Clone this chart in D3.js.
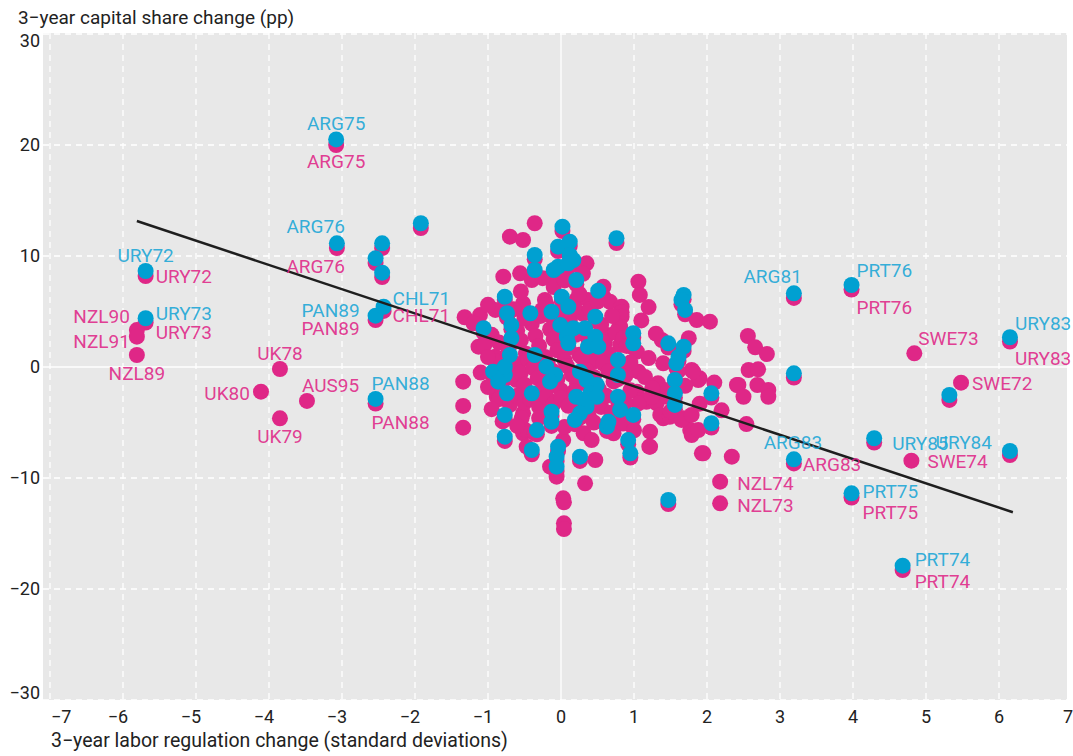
<!DOCTYPE html>
<html>
<head>
<meta charset="utf-8">
<script src="https://cdn.jsdelivr.net/npm/d3@7"></script>
<style>
    body { margin: 0; background: #fff; }
    svg { display: block; font-family: Roboto, "Noto Sans", sans-serif; }
</style>
</head>
<body>
<svg id="capital-scatter" width="1073" height="756"></svg>
<script>
// tick values
var xTicks = [-7, -6, -5, -4, -3, -2, -1, 0, 1, 2, 3, 4, 5, 6, 7];
var yTicks = [-30, -20, -10, 0, 10, 20, 30];

// [labor regulation change, capital share change]
var bluePoints = [
    [-3.08, 20.5], [-3.07, 11.14], [-5.69, 8.65], [-5.69, 4.39], [-2.54, 4.62], [-2.43, 5.43],
    [-2.54, -2.88], [3.19, 6.64], [3.98, 7.39], [6.15, 2.68], [3.19, -8.32], [4.29, -6.42],
    [6.15, -7.57], [3.98, -11.38], [4.68, -17.9],
    [-2.45, 11.14], [-2.54, 9.79], [-2.45, 8.5], [-1.92, 12.95], [5.32, -2.52], [3.19, -0.57], [1.47, -11.98],
    [0.02, 12.64], [0.76, 11.6], [0.12, 11.29], [-0.04, 10.84], [0.12, 10.09], [0.17, 9.64], [-0.04, 9.04],
    [-0.1, 8.74], [0.1, 9.34], [-0.36, 10.09], [-0.36, 8.74], [0.21, 7.84], [0.51, 6.87], [-0.77, 6.33],
    [0.01, 6.33], [0.1, 5.43], [-0.42, 4.84], [-0.13, 4.98], [-0.74, 4.84], [-0.68, 3.78], [0.47, 4.53],
    [-1.06, 3.49], [-0.01, 3.78], [0.17, 3.49], [0.08, 2.73], [0.33, 3.49], [0.47, 2.73], [0.37, 1.83],
    [0.51, 1.83], [0.1, 2.13], [-0.68, 2.59], [-0.7, 1.08], [0.99, 3.04], [0.99, 2.13], [1.68, 6.49],
    [1.65, 6.04], [1.7, 5.14], [1.47, 2.13], [1.68, 1.83], [1.61, 0.93], [1.58, 0.33], [-0.36, 1.08],
    [-0.93, -0.42], [-0.77, -0.72], [-0.86, -1.32], [-0.74, -2.37], [-0.77, 0.03], [-0.2, 0.03],
    [-0.08, -0.72], [-0.15, -1.32], [0.26, -0.42], [0.35, -1.17], [0.49, -1.62], [0.78, 0.63],
    [0.78, -0.72], [-0.4, -2.37], [0.21, -2.68], [0.31, -2.97], [0.4, -2.37], [0.49, -2.68],
    [0.35, -3.58], [0.26, -4.17], [0.78, -2.68], [0.81, -3.87], [0.99, -4.32], [-0.13, -4.03],
    [-0.13, -4.93], [1.56, -1.17], [1.56, -2.37], [1.56, -3.42], [2.06, -2.37], [2.06, -5.07],
    [-0.77, -4.32], [-0.77, -6.28], [-0.33, -5.68], [-0.4, -7.48], [0.19, -4.77], [0.63, -5.38],
    [0.65, -4.93], [0.92, -6.58], [0.95, -7.78], [-0.04, -7.18], [-0.06, -8.08], [-0.06, -8.98],
    [0.26, -8.08]
];

var pinkPoints = [
    // partners of the blue points
    [-3.08, 20.0], [-3.07, 10.72], [-5.69, 8.2], [-5.69, 4.0], [-2.54, 4.23], [-2.43, 5.05],
    [-2.54, -3.29], [3.19, 6.22], [3.98, 6.98], [6.15, 2.3], [3.19, -8.69], [4.29, -6.8],
    [6.15, -7.93], [3.98, -11.76], [4.68, -18.29],
    [-2.45, 10.72], [-2.54, 9.37], [-2.45, 8.1], [-1.92, 12.52], [5.32, -2.97], [3.19, -0.95], [1.47, -12.34],
    [0.02, 12.25], [0.76, 11.17], [0.12, 10.9], [-0.04, 10.45], [0.12, 9.7], [0.17, 9.25], [-0.04, 8.65],
    [-0.1, 8.35], [0.1, 8.95], [-0.36, 9.7], [-0.36, 8.38], [0.21, 7.45], [0.51, 6.49], [-0.77, 6.04],
    [0.01, 5.95], [0.1, 5.05], [-0.42, 4.45], [-0.13, 4.6], [-0.74, 4.45], [-0.68, 3.4], [0.47, 4.14],
    [-1.06, 3.1], [-0.01, 3.4], [0.17, 3.1], [0.08, 2.35], [0.33, 3.1], [0.47, 2.35], [0.37, 1.45],
    [0.51, 1.45], [0.1, 1.75], [-0.68, 2.2], [-0.7, 0.7], [0.99, 2.65], [0.99, 1.75], [1.68, 6.1],
    [1.65, 5.65], [1.7, 4.75], [1.47, 1.75], [1.68, 1.45], [1.61, 0.55], [1.58, -0.05], [-0.36, 0.7],
    [-0.93, -0.8], [-0.77, -1.1], [-0.86, -1.7], [-0.74, -2.75], [-0.77, -0.35], [-0.2, -0.35],
    [-0.08, -1.1], [-0.15, -1.7], [0.26, -0.8], [0.35, -1.55], [0.49, -2.0], [0.78, 0.25],
    [0.78, -1.1], [-0.4, -2.75], [0.21, -3.06], [0.31, -3.35], [0.4, -2.75], [0.49, -3.06],
    [0.35, -3.96], [0.26, -4.55], [0.78, -3.06], [0.81, -4.25], [0.99, -4.7], [-0.13, -4.41],
    [-0.13, -5.31], [1.56, -1.55], [1.56, -2.75], [1.56, -3.8], [2.06, -2.75], [2.06, -5.45],
    [-0.77, -4.7], [-0.77, -6.66], [-0.33, -6.06], [-0.4, -7.86], [0.19, -5.15], [0.63, -5.76],
    [0.65, -5.31], [0.92, -6.96], [0.95, -8.16], [-0.04, -7.56], [-0.06, -8.46], [-0.06, -9.36],
    [0.26, -8.46],
    // pink only
    [-5.81, 3.33], [-5.81, 2.73], [-5.81, 1.08], [-3.85, -0.18], [-4.11, -2.22], [-3.85, -4.62],
    [-3.48, -3.06], [4.84, 1.23], [5.48, -1.41], [4.8, -8.44], [2.18, -10.33], [2.18, -12.28],
    [-1.34, -1.32], [-1.34, -3.51], [-1.34, -5.47], [-1.32, 4.48], [-1.11, 4.68], [-1.2, 3.94],
    [-1.13, 1.83], [-0.9, 0.93], [-0.9, 5.14], [-0.88, -1.47], [-0.88, -2.68], [-0.61, -1.17],
    [-0.29, -2.37], [-0.36, 12.95], [-0.7, 11.74], [-0.52, 11.44], [0.35, 9.34], [-0.79, 8.14],
    [-0.56, 8.44], [-0.4, 7.84], [1.06, 7.68], [1.08, 6.49], [-0.52, 5.74], [-0.26, 5.14],
    [-0.22, 6.04], [0.21, 6.04], [0.37, 6.04], [0.58, 6.33], [0.67, 5.88], [0.83, 5.43], [0.58, 7.23],
    [0.83, 4.93], [0.83, 4.53], [0.81, 3.63], [0.79, 3.49], [0.63, 2.88], [0.81, 1.98], [1.04, 1.38],
    [1.38, 2.43], [1.4, 0.33], [1.31, -1.62], [1.86, 4.23], [2.04, 4.08], [1.79, -0.27], [1.88, -1.17],
    [1.06, -0.42], [1.04, -2.22], [1.17, -3.13], [1.31, -3.27], [1.45, -2.68], [1.4, -4.62],
    [1.68, -4.62], [1.77, -5.68], [1.22, -5.83], [1.22, -7.18], [1.93, -7.78], [2.34, -8.08],
    [1.21, -7.18], [2.41, -1.62], [0.47, -8.38], [0.33, -10.48], [0.03, -11.83], [0.04, -12.19],
    [-0.15, -8.98], [-0.06, -9.88], [0.04, -14.08], [0.04, -14.6], [-0.52, -4.17], [-0.52, -5.97],
    [-0.47, -7.18], [-0.54, -4.62], [-0.49, -5.68], [-0.36, -5.97], [0.67, -4.77], [0.72, -5.97],
    [0.31, -5.97], [0.42, -6.58], [0.03, -6.58], [-0.1, -9.13], [1.33, -1.47], [1.42, -2.07],
    [1.1, -2.97], [1.24, -2.68], [1.06, -3.27], [1.36, -4.32], [1.49, -4.48], [1.65, -4.77],
    [1.79, -4.32], [1.9, -1.02], [1.81, -0.42], [1.79, -6.13], [1.88, -5.68], [1.95, -7.78],
    [2.56, 2.79], [2.66, 1.77], [2.82, 1.17], [2.57, -0.27], [2.7, -0.21], [2.43, -1.62],
    [2.69, -1.62], [2.84, -2.07], [2.5, -2.68], [2.84, -2.68], [2.54, -5.14],
    [-0.95, 2.9], [-0.85, 2.2], [-0.72, 1.6], [-0.6, 3.3], [-0.55, 2.4], [-0.48, 1.2], [-0.4, 3.9],
    [-0.35, 2.8], [-0.3, 1.9], [-0.22, 0.9], [-0.15, 3.4], [-0.1, 2.5], [-0.05, 1.5], [0.05, 0.6],
    [0.12, 4.2], [0.2, 2.9], [0.25, 1.1], [0.3, 4.8], [0.38, 2.4], [0.42, 0.4], [0.55, 3.8],
    [0.6, 2.2], [0.65, 1.2], [0.7, 4.6], [0.75, 3.1], [0.85, 2.6], [0.9, 1.9],
    [-0.9, 0.5], [-0.8, -0.2], [-0.7, -0.9], [-0.62, 0.3], [-0.55, -0.5], [-0.5, -1.6], [-0.45, 0.7],
    [-0.38, -0.1], [-0.32, -1.0], [-0.25, -1.9], [-0.18, 0.2], [-0.1, -0.4], [-0.05, -1.1], [0.0, -2.1],
    [0.08, 0.1], [0.15, -0.7], [0.22, -1.5], [0.28, 0.9], [0.35, -0.3], [0.45, -0.9], [0.52, -2.0],
    [0.58, 0.3], [0.65, -0.4], [0.72, -1.3], [0.8, -0.1], [0.88, -0.8], [0.95, 0.4],
    [-0.85, -2.9], [-0.7, -3.4], [-0.6, -2.6], [-0.5, -3.2], [-0.42, -2.9], [-0.3, -3.6], [-0.2, -2.7],
    [-0.1, -3.3], [0.0, -2.8], [0.1, -3.5], [0.18, -2.2], [0.28, -3.8], [0.38, -4.4], [0.45, -3.1],
    [0.55, -3.6], [0.62, -2.6], [0.7, -4.1], [0.88, -3.2], [0.95, -2.1],
    [-0.65, 5.2], [-0.5, 4.4], [-0.28, 4.6], [-0.2, 5.6], [0.0, 4.9], [0.18, 5.3], [0.4, 5.2],
    [0.5, 5.9], [0.25, 6.6], [-0.1, 7.2], [0.05, 7.8], [0.3, 8.4], [-0.25, 8.0], [-0.55, 6.8],
    [-1.0, 5.6], [-1.05, 2.0], [-1.0, 0.9], [-1.1, -0.5], [-1.0, -1.8], [-0.95, -3.8], [-0.8, -4.9],
    [-0.6, -5.3], [-0.3, -4.6], [0.05, -5.4], [0.45, -5.0], [0.85, -5.1], [1.0, -5.7], [1.15, -0.9],
    [1.2, 0.8], [1.25, -1.9], [1.3, 3.0], [1.1, 4.2], [1.2, 5.4], [1.5, -4.0], [1.6, -0.4],
    [1.7, -1.7], [1.75, 2.6], [1.9, -3.3], [2.1, -1.4], [2.2, -3.9]
];

// labelled country-years: [name, x, y]
var blueLabels = [
    ['ARG75', -3.08, 20.5], ['ARG76', -3.07, 11.14], ['URY72', -5.69, 8.65], ['URY73', -5.69, 4.39],
    ['PAN89', -2.54, 4.62], ['CHL71', -2.43, 5.43], ['PAN88', -2.54, -2.88], ['ARG81', 3.19, 6.64],
    ['PRT76', 3.98, 7.39], ['URY83', 6.15, 2.68], ['ARG83', 3.19, -8.32], ['URY85', 4.29, -6.42],
    ['URY84', 6.15, -7.57], ['PRT75', 3.98, -11.38], ['PRT74', 4.68, -17.9]
];
var pinkLabels = [
    ['ARG75', -3.08, 20.0], ['ARG76', -3.07, 10.72], ['URY72', -5.69, 8.2], ['URY73', -5.69, 4.0],
    ['NZL90', -5.81, 3.33], ['NZL91', -5.81, 2.73], ['NZL89', -5.81, 1.08], ['UK78', -3.85, -0.18],
    ['UK80', -4.11, -2.22], ['UK79', -3.85, -4.62], ['AUS95', -3.48, -3.06], ['PAN88', -2.54, -3.29],
    ['PAN89', -2.54, 4.23], ['CHL71', -2.43, 5.05], ['PRT76', 3.98, 6.98], ['SWE73', 4.84, 1.23],
    ['URY83', 6.15, 2.3], ['SWE72', 5.48, -1.41], ['ARG83', 3.19, -8.69], ['SWE74', 4.8, -8.44],
    ['NZL74', 2.18, -10.33], ['NZL73', 2.18, -12.28], ['PRT75', 3.98, -11.76], ['PRT74', 4.68, -18.29]
];

// fitted line
var trendFrom = -5.81, trendTo = 6.19;
var trendSlope = -2.186, trendIntercept = 0.45;

(function() {
    var pink = '#df2787', blue = '#00a0d1';

    // label placement: [anchor, dx, dy]
    var bluePlace = {
        ARG75: ['middle', 0, -9], ARG76: ['end', 8, -10], URY72: ['middle', 0, -9], URY73: ['start', 10, 2],
        PAN89: ['end', -16, 1], CHL71: ['start', 9, -2], PAN88: ['start', -4, -9], ARG81: ['end', 8, -10],
        PRT76: ['start', 5, -8], URY83: ['start', 5, -7], ARG83: ['middle', -1, -10], URY85: ['start', 18, 12],
        URY84: ['end', -18, -2], PRT75: ['start', 11, 5], PRT74: ['start', 12, 0]
    };
    var pinkPlace = {
        ARG75: ['middle', 0, 23], ARG76: ['end', 8, 25], URY72: ['start', 10, 7], URY73: ['start', 10, 16],
        NZL90: ['end', -7, -7], NZL91: ['end', -7, 11], NZL89: ['middle', 0, 25], UK78: ['middle', 0, -9],
        UK80: ['end', -11, 8], UK79: ['middle', 0, 25], AUS95: ['start', -5, -9], PAN88: ['start', -4, 25],
        PAN89: ['end', -16, 15], CHL71: ['start', 9, 11], PRT76: ['start', 5, 24], SWE73: ['start', 4, -8],
        URY83: ['start', 5, 24], SWE72: ['start', 11, 7], ARG83: ['start', 9, 8], SWE74: ['start', 16, 7],
        NZL74: ['start', 17, 8], NZL73: ['start', 17, 9], PRT75: ['start', 11, 21], PRT74: ['start', 12, 18]
    };

    var svg = d3.select('#capital-scatter');

    var x = d3.scaleLinear().domain([-7, 7]).range([50, 1072]);
    var y = d3.scaleLinear().domain([-30, 30]).range([700, 34]);

    // plot background
    svg.append('rect')
        .attr('x', 43).attr('y', 33)
        .attr('width', 1067 - 43).attr('height', 700 - 33)
        .attr('fill', '#e8e8e8');

    var grid = svg.append('g');
    grid.selectAll('line.vx')
        .data(xTicks)
        .enter()
        .append('line')
        .attr('x1', function(d) { return x(d); })
        .attr('x2', function(d) { return x(d); })
        .attr('y1', 33).attr('y2', 700)
        .attr('stroke', '#fff')
        .attr('stroke-width', 1.3)
        .attr('stroke-dasharray', function(d) { return d === 0 ? null : '6,5'; });

    grid.selectAll('line.hy')
        .data(yTicks)
        .enter()
        .append('line')
        .attr('x1', 43).attr('x2', 1067)
        .attr('y1', function(d) { return y(d); })
        .attr('y2', function(d) { return y(d); })
        .attr('stroke', '#fff')
        .attr('stroke-width', 1.3)
        .attr('stroke-dasharray', function(d) { return d === 0 ? null : '6,5'; });

    // tick labels
    var fmt = function(d) { return d < 0 ? '\u2212' + Math.abs(d) : '' + d; };

    svg.append('g').selectAll('text')
        .data(yTicks)
        .enter()
        .append('text')
        .attr('x', 40)
        .attr('y', function(d) {
            if (d === 30) return y(d) + 7;
            if (d === -30) return y(d) - 7;
            return y(d);
        })
        .attr('dy', '0.35em')
        .attr('text-anchor', 'end')
        .attr('font-size', 18)
        .attr('fill', '#222')
        .text(fmt);

    svg.append('g').selectAll('text')
        .data(xTicks)
        .enter()
        .append('text')
        .attr('x', function(d) {
            if (d === -7) return x(d) + 1;
            if (d === 7) return 1073;
            return d < 0 ? x(d) - 5 : x(d);
        })
        .attr('y', 723)
        .attr('text-anchor', function(d) {
            if (d === -7) return 'start';
            if (d === 7) return 'end';
            return 'middle';
        })
        .attr('font-size', 18)
        .attr('fill', '#222')
        .text(fmt);

    svg.append('text')
        .attr('x', 18).attr('y', 24)
        .attr('font-size', 19)
        .attr('fill', '#222')
        .text('3\u2212year capital share change (pp)');

    svg.append('text')
        .attr('x', 51).attr('y', 747)
        .attr('font-size', 19.5)
        .attr('fill', '#222')
        .text('3\u2212year labor regulation change (standard deviations)');

    // points
    svg.append('g').selectAll('circle')
        .data(pinkPoints)
        .enter()
        .append('circle')
        .attr('cx', function(d) { return x(d[0]); })
        .attr('cy', function(d) { return y(d[1]); })
        .attr('r', 8)
        .attr('fill', pink);

    svg.append('g').selectAll('circle')
        .data(bluePoints)
        .enter()
        .append('circle')
        .attr('cx', function(d) { return x(d[0]); })
        .attr('cy', function(d) { return y(d[1]); })
        .attr('r', 8)
        .attr('fill', blue);

    // trend
    svg.append('line')
        .attr('x1', x(trendFrom))
        .attr('y1', y(trendIntercept + trendSlope * trendFrom))
        .attr('x2', x(trendTo))
        .attr('y2', y(trendIntercept + trendSlope * trendTo))
        .attr('stroke', '#1e1e1e')
        .attr('stroke-width', 2.5);

    var addLabels = function(list, place, color) {
        svg.append('g').selectAll('text')
            .data(list)
            .enter()
            .append('text')
            .attr('x', function(d) { return x(d[1]) + place[d[0]][1]; })
            .attr('y', function(d) { return y(d[2]) + place[d[0]][2]; })
            .attr('text-anchor', function(d) { return place[d[0]][0]; })
            .attr('font-size', 19)
            .attr('fill', color)
            .attr('fill-opacity', 0.9)
            .text(function(d) { return d[0]; });
    };
    addLabels(pinkLabels, pinkPlace, pink);
    addLabels(blueLabels, bluePlace, '#1ba6d6');
})();
</script>
</body>
</html>
